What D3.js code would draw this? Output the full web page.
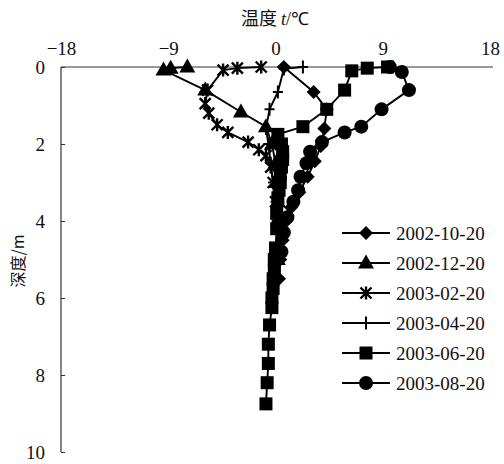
<!DOCTYPE html>
<html><head><meta charset="utf-8">
<script src="https://cdn.jsdelivr.net/npm/d3@7"></script>
<style>body{margin:0;background:#fff}svg{display:block}</style>
</head><body>
<script>
const seriesNames = ["2002-10-20","2002-12-20","2003-02-20","2003-04-20","2003-06-20","2003-08-20"];
const markers = ["diamond","triangle","star","plus","square","circle"];
const xTicks = [-18,-9,0,9,18];
const yTicks = [0,2,4,6,8,10];

const octTemp = [0.7,3.2,4.3,4.1,3.8,3.3,2.7,2.0,1.3,0.9,0.6,0.4,0.3];
const octDepth = [0,0.65,1.1,1.6,2.05,2.45,2.85,3.25,3.65,4.0,4.5,5.0,5.5];
const decTemp = [-7.4,-8.8,-9.4,-5.9,-2.9,-0.8,-0.3,0.0,0.1,0.2,0.2,0.2];
const decDepth = [0,0.03,0.08,0.6,1.17,1.55,2.0,2.5,3.0,3.5,4.0,5.0];
const febTemp = [-1.2,-3.2,-4.4,-5.7,-5.9,-5.6,-4.9,-4.0,-2.3,-1.4,-0.8,-0.4,-0.2,0.0,0.1];
const febDepth = [0,0.03,0.08,0.6,0.95,1.2,1.5,1.7,1.95,2.15,2.3,2.6,3.0,3.5,4.0];
const aprTemp = [2.3,0.7,0.2,-0.5,-0.8,-0.6,-0.4,-0.2,0.0,0.1];
const aprDepth = [0,0.05,0.65,1.1,1.6,2.0,2.5,3.0,3.5,4.0];
const junTemp = [9.4,7.7,6.4,5.8,4.3,2.3,0.2,0.5,0.6,0.6,0.5,0.4,0.4,0.3,0.2,0.1,0.1,0.0,-0.1,-0.1,-0.2,-0.2,-0.3,-0.3,-0.5,-0.6,-0.6,-0.7,-0.8];
const junDepth = [0,0.03,0.1,0.6,1.1,1.55,1.75,2.0,2.2,2.4,2.6,2.8,3.0,3.2,3.4,3.8,4.2,4.7,5.0,5.25,5.5,5.75,6.0,6.25,6.7,7.2,7.7,8.2,8.75];
const augTemp = [9.6,10.6,11.2,8.9,7.2,5.8,3.9,2.9,2.6,2.1,1.9,1.5,1.0,0.7,0.5];
const augDepth = [0,0.13,0.6,1.1,1.55,1.7,1.95,2.2,2.5,2.85,3.2,3.5,3.9,4.3,4.8];

const temps = [octTemp,decTemp,febTemp,aprTemp,junTemp,augTemp];
const depths = [octDepth,decDepth,febDepth,aprDepth,junDepth,augDepth];

const W=504,H=464;
const svg=d3.select("body").append("svg").attr("width",W).attr("height",H);
const x=d3.scaleLinear().domain([-18,18]).range([61,490]);
const y=d3.scaleLinear().domain([0,10]).range([67,452]);
const serif="'Liberation Serif','Times New Roman',serif";

// axes
const xAxis=d3.axisTop(x).tickValues(xTicks).tickSize(0).tickPadding(12)
  .tickFormat(d=>d<0?"\u2212"+Math.abs(d):d);
const gx=svg.append("g").attr("transform",`translate(0,${y(0)})`).call(xAxis);
gx.select(".domain").attr("d",`M${x(-18)},0H${x(18)+3}`).attr("stroke","#333").attr("stroke-width",1.2);
gx.selectAll("text").attr("font-family",serif).attr("font-size",19).attr("fill","#111");

const yAxis=d3.axisLeft(y).tickValues(yTicks).tickSize(-4).tickPadding(16);
const gy=svg.append("g").attr("transform",`translate(${x(-18)},0)`).call(yAxis);
gy.select(".domain").attr("d",`M0,${y(0)}V${y(10)}`).attr("stroke","#333").attr("stroke-width",1.2);
gy.selectAll(".tick line").attr("stroke","#333");
gy.selectAll("text").attr("font-family",serif).attr("font-size",19).attr("fill","#111");

// titles
const t=svg.append("text").attr("x",275).attr("y",25).attr("text-anchor","middle")
  .attr("font-size",18).attr("fill","#111");
t.append("tspan").attr("font-family","'Noto Sans CJK SC'").text("温度 ");
t.append("tspan").attr("font-family",serif).attr("font-style","italic").text("t");
t.append("tspan").attr("font-family",serif).text("/℃");
svg.append("text").attr("transform","translate(24,261) rotate(-90)").attr("text-anchor","middle")
  .attr("font-family","'Noto Sans CJK SC'").attr("font-size",16).attr("fill","#111").text("深度/m");

function drawMarker(g,type,cx,cy){
  const k="#000";
  if(type==="diamond") g.append("path").attr("d",`M${cx},${cy-7}L${cx+7},${cy}L${cx},${cy+7}L${cx-7},${cy}Z`).attr("fill",k);
  else if(type==="triangle") g.append("path").attr("d",`M${cx},${cy-8.5}L${cx+8},${cy+5.5}L${cx-8},${cy+5.5}Z`).attr("fill",k);
  else if(type==="square") g.append("rect").attr("x",cx-6.5).attr("y",cy-6.5).attr("width",13).attr("height",13).attr("fill",k);
  else if(type==="circle") g.append("circle").attr("cx",cx).attr("cy",cy).attr("r",7).attr("fill",k);
  else if(type==="star") g.append("path").attr("d",`M${cx-5.5},${cy-5.5}L${cx+5.5},${cy+5.5}M${cx-5.5},${cy+5.5}L${cx+5.5},${cy-5.5}M${cx},${cy-6.5}V${cy+6.5}`).attr("stroke",k).attr("stroke-width",2.4).attr("fill","none");
  else if(type==="plus") g.append("path").attr("d",`M${cx-5},${cy}H${cx+5}M${cx},${cy-6.5}V${cy+6.5}`).attr("stroke",k).attr("stroke-width",2).attr("fill","none");
}

const line=d3.line().x(d=>x(d[0])).y(d=>y(d[1]));
temps.forEach((tt,i)=>{
  const pts=tt.map((v,j)=>[v,depths[i][j]]);
  const g=svg.append("g");
  g.append("path").attr("d",line(pts)).attr("fill","none").attr("stroke","#000").attr("stroke-width",1.9);
  pts.forEach(p=>drawMarker(g,markers[i],x(p[0]),y(p[1])));
});

// legend
seriesNames.forEach((n,i)=>{
  const ly=233+i*30;
  const g=svg.append("g");
  g.append("line").attr("x1",342).attr("x2",390).attr("y1",ly).attr("y2",ly).attr("stroke","#000").attr("stroke-width",1.9);
  drawMarker(g,markers[i],366,ly);
  g.append("text").attr("x",396).attr("y",ly).attr("dy","0.35em").attr("font-family",serif)
    .attr("font-size",19).attr("fill","#111").text(n);
});
</script>
</body></html>
